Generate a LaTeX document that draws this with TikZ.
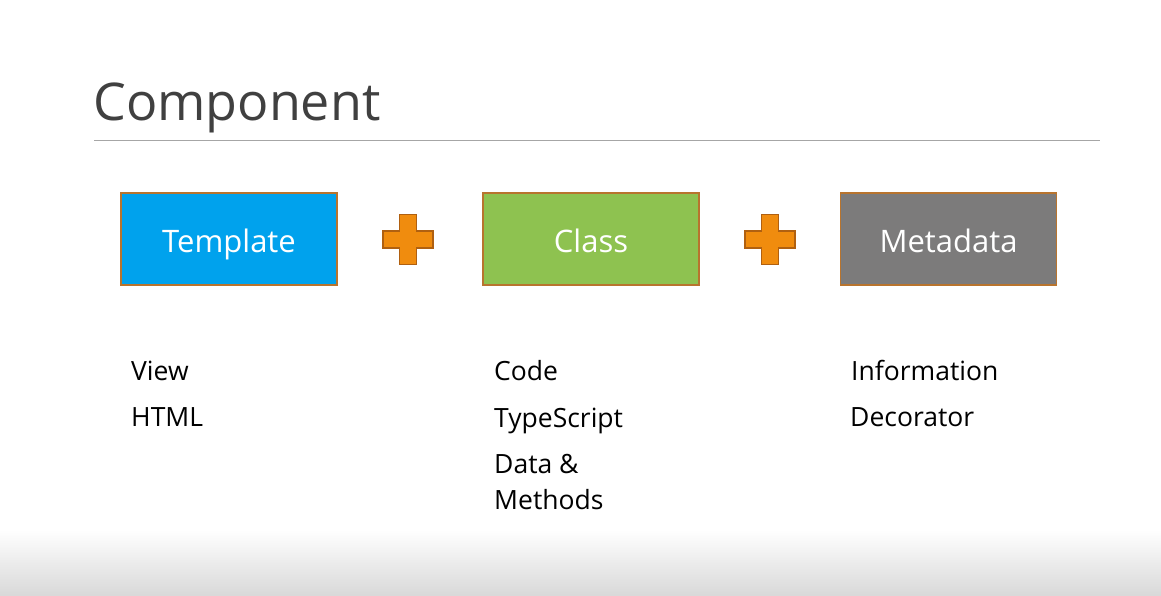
\documentclass[tikz,border=0pt]{standalone}
\usepackage{fontspec}
\setmainfont{Open Sans}
\definecolor{titlegray}{HTML}{404040}
\definecolor{rulegray}{HTML}{A6A6A6}
\definecolor{edgebrown}{HTML}{B8742E}
\definecolor{tplblue}{HTML}{00A2ED}
\definecolor{clsgreen}{HTML}{8EC250}
\definecolor{metagray}{HTML}{7C7B7B}
\definecolor{plusorange}{HTML}{F08C0E}
\definecolor{plusedge}{HTML}{B06010}
\definecolor{shadegray}{HTML}{D8D8D8}
\tikzset{
  partbox/.style={draw=edgebrown, line width=1.3pt, minimum width=216pt, minimum height=92pt,
    inner sep=0pt, text height=26pt, text depth=0pt, text=white,
    font=\fontsize{31}{36}\selectfont},
  itemtext/.style={anchor=base west, inner sep=0pt, text=black, font=\fontsize{26.5}{30}\selectfont},
  pics/plussign/.style={code={
    \draw[fill=plusorange, draw=plusedge, line width=1.2pt, line join=miter]
      (-8.5,-25) -- (8.5,-25) -- (8.5,-8.5) -- (25,-8.5) -- (25,8.5) -- (8.5,8.5)
      -- (8.5,25) -- (-8.5,25) -- (-8.5,8.5) -- (-25,8.5) -- (-25,-8.5) -- (-8.5,-8.5) -- cycle;
  }}
}
\begin{document}
\begin{tikzpicture}[x=1pt, y=-1pt]
  % page and bottom fade
  \fill[white] (0,0) rectangle (1161,596);
  \shade[top color=white, bottom color=shadegray] (0,530) rectangle (1161,596);
  \useasboundingbox (0,0) rectangle (1161,596);

  % heading and rule
  \node[anchor=base west, inner sep=0pt, text=titlegray, font=\fontsize{52}{60}\selectfont]
    (title) at (93,121) {Component};
  \draw[rulegray, line width=1pt] (94,141) -- (1100,141);

  % the three parts
  \node[partbox, fill=tplblue]  (template) at (229,239) {Template};
  \node[partbox, fill=clsgreen] (class)    at (591,239) {Class};
  \node[partbox, fill=metagray] (metadata) at (948.5,239) {Metadata};

  % plus signs between the parts
  \pic at (408,239.5) {plussign};
  \pic at (770,239.5) {plussign};

  % descriptions
  \node[itemtext] (view)   at (131,380) {View};
  \node[itemtext] (html)   at (131,426) {HTML};
  \node[itemtext] (code)   at (494,380) {Code};
  \node[itemtext] (ts)     at (494,427) {TypeScript};
  \node[itemtext] (data)   at (494,473) {Data \&};
  \node[itemtext] (meth)   at (494,509) {Methods};
  \node[itemtext] (info)   at (851,380) {Information};
  \node[itemtext] (deco)   at (850,426) {Decorator};
\end{tikzpicture}
\end{document}
